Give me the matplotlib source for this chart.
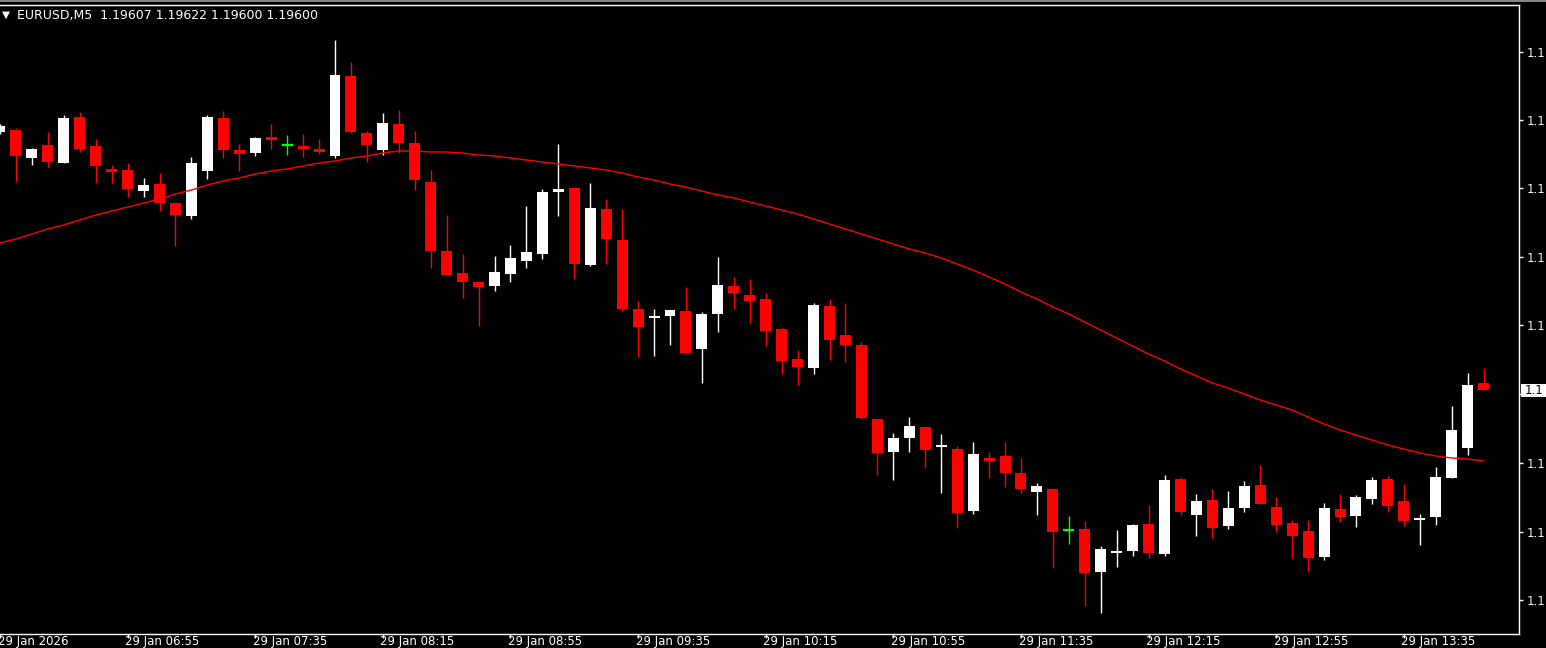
import numpy as np
import matplotlib.pyplot as plt
from matplotlib.patches import Rectangle
from matplotlib.lines import Line2D
from matplotlib.transforms import blended_transform_factory

# EURUSD M5 chart, 29 Jan 2026, first bar 06:15 (partly hidden), last bar 14:00
header = "EURUSD,M5  1.19607 1.19622 1.19600 1.19600"

opens = [1.19858, 1.19860, 1.19832, 1.19845, 1.19827, 1.19873, 1.19844, 1.19821, 1.19820, 1.19799,
         1.19806, 1.19787, 1.19774, 1.19819, 1.19872, 1.19840, 1.19837, 1.19853, 1.19845, 1.19844,
         1.19841, 1.19834, 1.19914, 1.19857, 1.19840, 1.19866, 1.19847, 1.19808, 1.19739, 1.19717,
         1.19708, 1.19704, 1.19716, 1.19729, 1.19736, 1.19798, 1.19802, 1.19725, 1.19781, 1.19750,
         1.19681, 1.19672, 1.19674, 1.19679, 1.19641, 1.19676, 1.19704, 1.19695, 1.19691, 1.19661,
         1.19631, 1.19622, 1.19684, 1.19655, 1.19645, 1.19571, 1.19538, 1.19552, 1.19563, 1.19543,
         1.19541, 1.19479, 1.19532, 1.19534, 1.19517, 1.19498, 1.19501, 1.19460, 1.19461, 1.19418,
         1.19437, 1.19439, 1.19466, 1.19436, 1.19511, 1.19475, 1.19490, 1.19464, 1.19482, 1.19505,
         1.19483, 1.19467, 1.19459, 1.19433, 1.19481, 1.19474, 1.19491, 1.19511, 1.19489, 1.19470,
         1.19473, 1.19512, 1.19542, 1.19607]
highs = [1.19866, 1.19862, 1.19842, 1.19858, 1.19875, 1.19878, 1.19851, 1.19825, 1.19827, 1.19812,
         1.19817, 1.19787, 1.19833, 1.19875, 1.19879, 1.19846, 1.19853, 1.19866, 1.19855, 1.19856,
         1.19851, 1.19950, 1.19928, 1.19859, 1.19877, 1.19880, 1.19859, 1.19820, 1.19775, 1.19736,
         1.19708, 1.19734, 1.19745, 1.19784, 1.19801, 1.19846, 1.19802, 1.19807, 1.19791, 1.19781,
         1.19689, 1.19681, 1.19680, 1.19703, 1.19678, 1.19733, 1.19713, 1.19711, 1.19697, 1.19663,
         1.19640, 1.19687, 1.19691, 1.19687, 1.19648, 1.19571, 1.19557, 1.19573, 1.19563, 1.19556,
         1.19544, 1.19548, 1.19538, 1.19548, 1.19532, 1.19507, 1.19502, 1.19474, 1.19469, 1.19444,
         1.19460, 1.19466, 1.19485, 1.19515, 1.19513, 1.19496, 1.19501, 1.19499, 1.19509, 1.19525,
         1.19493, 1.19470, 1.19470, 1.19487, 1.19496, 1.19495, 1.19513, 1.19514, 1.19506, 1.19476,
         1.19523, 1.19584, 1.19617, 1.19622]
lows = [1.19856, 1.19808, 1.19825, 1.19823, 1.19827, 1.19838, 1.19807, 1.19807, 1.19793, 1.19793,
        1.19779, 1.19744, 1.19771, 1.19811, 1.19832, 1.19819, 1.19834, 1.19841, 1.19835, 1.19833,
        1.19836, 1.19832, 1.19857, 1.19828, 1.19835, 1.19837, 1.19800, 1.19722, 1.19715, 1.19692,
        1.19664, 1.19699, 1.19708, 1.19722, 1.19731, 1.19774, 1.19711, 1.19724, 1.19726, 1.19679,
        1.19633, 1.19634, 1.19645, 1.19637, 1.19607, 1.19658, 1.19681, 1.19667, 1.19644, 1.19616,
        1.19605, 1.19616, 1.19630, 1.19628, 1.19571, 1.19515, 1.19510, 1.19538, 1.19522, 1.19497,
        1.19462, 1.19476, 1.19512, 1.19503, 1.19497, 1.19475, 1.19422, 1.19446, 1.19384, 1.19377,
        1.19423, 1.19434, 1.19432, 1.19434, 1.19475, 1.19454, 1.19452, 1.19461, 1.19478, 1.19486,
        1.19458, 1.19432, 1.19418, 1.19430, 1.19468, 1.19463, 1.19486, 1.19478, 1.19464, 1.19445,
        1.19465, 1.19512, 1.19535, 1.19600]
closes = [1.19864, 1.19834, 1.19841, 1.19828, 1.19872, 1.19841, 1.19824, 1.19818, 1.19801, 1.19805,
          1.19787, 1.19775, 1.19827, 1.19873, 1.19840, 1.19836, 1.19852, 1.19850, 1.19845, 1.19841,
          1.19838, 1.19915, 1.19858, 1.19845, 1.19867, 1.19847, 1.19810, 1.19739, 1.19715, 1.19708,
          1.19703, 1.19718, 1.19732, 1.19738, 1.19798, 1.19801, 1.19726, 1.19782, 1.19751, 1.19681,
          1.19663, 1.19674, 1.19680, 1.19637, 1.19676, 1.19705, 1.19697, 1.19689, 1.19659, 1.19629,
          1.19623, 1.19685, 1.19650, 1.19645, 1.19572, 1.19537, 1.19552, 1.19564, 1.19540, 1.19545,
          1.19477, 1.19536, 1.19529, 1.19517, 1.19501, 1.19504, 1.19458, 1.19460, 1.19417, 1.19441,
          1.19439, 1.19465, 1.19437, 1.19510, 1.19478, 1.19489, 1.19462, 1.19482, 1.19504, 1.19486,
          1.19465, 1.19454, 1.19432, 1.19482, 1.19473, 1.19493, 1.19510, 1.19484, 1.19469, 1.19472,
          1.19513, 1.19560, 1.19605, 1.19600]

# moving average line (one value per bar)
ma = [1.19747, 1.19751, 1.19756, 1.19761, 1.19765, 1.19770, 1.19775, 1.19779, 1.19783, 1.19787,
      1.19791, 1.19796, 1.19800, 1.19805, 1.19809, 1.19812, 1.19816, 1.19819, 1.19821, 1.19824,
      1.19827, 1.19829, 1.19832, 1.19834, 1.19837, 1.19839, 1.19839, 1.19838, 1.19838, 1.19837,
      1.19835, 1.19834, 1.19832, 1.19830, 1.19828, 1.19826, 1.19824, 1.19822, 1.19820, 1.19817,
      1.19813, 1.19810, 1.19806, 1.19803, 1.19799, 1.19795, 1.19792, 1.19788, 1.19784, 1.19780,
      1.19776, 1.19771, 1.19766, 1.19761, 1.19756, 1.19751, 1.19746, 1.19741, 1.19737, 1.19732,
      1.19726, 1.19720, 1.19713, 1.19706, 1.19698, 1.19691, 1.19683, 1.19676, 1.19668, 1.19660,
      1.19652, 1.19644, 1.19636, 1.19629, 1.19621, 1.19614, 1.19607, 1.19602, 1.19596, 1.19590,
      1.19585, 1.19580, 1.19573, 1.19566, 1.19560, 1.19555, 1.19550, 1.19545, 1.19541, 1.19537,
      1.19534, 1.19532, 1.19531, 1.19529]

time_labels = ["29 Jan 2026", "29 Jan 06:55", "29 Jan 07:35", "29 Jan 08:15", "29 Jan 08:55",
               "29 Jan 09:35", "29 Jan 10:15", "29 Jan 10:55", "29 Jan 11:35", "29 Jan 12:15",
               "29 Jan 12:55", "29 Jan 13:35"]
time_label_bars = [-1, 7, 15, 23, 31, 39, 47, 55, 63, 71, 79, 87]

price_ticks = [1.19938, 1.19870, 1.19802, 1.19733, 1.19665, 1.19596, 1.19527, 1.19458, 1.19390]
last_price = 1.19600

W, H = 1546, 648
BULL = "#ffffff"
BEAR = "#ff0000"
DOJI = "#00ff00"

fig = plt.figure(figsize=(W / 100, H / 100), dpi=100, facecolor="black")
# plot area: x 0..1519 px, y 5..634 px
ax = fig.add_axes([0, (H - 634) / H, 1519 / W, 629 / H], facecolor="black")

x = np.arange(len(opens)) - 1
body_w = 11 / 16

for i in range(len(opens)):
    o, h, l, c = opens[i], highs[i], lows[i], closes[i]
    if c > o:
        col = BULL
    elif c < o:
        col = BEAR
    else:
        col = DOJI
    ax.vlines(x[i], l, h, colors=col, lw=1, zorder=2)
    if abs(c - o) < 1.5e-5:
        # very thin body -> MT4 draws a flat line
        ax.hlines((o + c) / 2, x[i] - body_w / 2, x[i] + body_w / 2, colors=col, lw=1.6, zorder=3)
    else:
        ax.bar(x[i], abs(c - o), bottom=min(o, c), width=body_w, color=col,
               linewidth=0, zorder=3)

ax.plot(x, ma, color="#ff0000", lw=1, zorder=4)

ax.set_xlim(-11.5 / 16, -11.5 / 16 + 1519 / 16)
ax.set_ylim(1.19356, 1.19985)

# frame
for side in ["top", "right", "bottom"]:
    ax.spines[side].set_color("white")
    ax.spines[side].set_linewidth(1)
ax.spines["left"].set_visible(False)

# price scale on the right (label under the current price box is hidden)
ax.yaxis.tick_right()
ax.set_yticks(price_ticks)
ax.set_yticklabels(["" if abs(p - last_price) < 8e-5 else "1.1" for p in price_ticks])
ax.tick_params(axis="y", colors="white", length=3, width=1, pad=2.5, labelsize=8.5,
               labelcolor="#f0f0f0")

# time scale
ax.set_xticks(time_label_bars)
ax.set_xticklabels([""] * len(time_label_bars))
ax.tick_params(axis="x", colors="white", length=3, width=1)
tr = blended_transform_factory(ax.transData, ax.transAxes)
for b, lab in zip(time_label_bars, time_labels):
    ax.text(b - 0.15, -13.5 / 629, lab, transform=tr, ha="left", va="bottom", color="white",
            fontsize=8.5, clip_on=False)

# current price marker
tr2 = blended_transform_factory(ax.transAxes, ax.transData)
ax.add_patch(Rectangle((1 + 2 / 1519, last_price - 6.5e-5), 26 / 1519, 13e-5, transform=tr2,
                       facecolor="white", edgecolor="none", clip_on=False, zorder=5))
ax.text(1 + 6 / 1519, last_price, "1.1", transform=tr2, ha="left", va="center", color="black",
        fontsize=8.5, clip_on=False, zorder=6)

# header
fig.text(2 / W, 1 - 15 / H, "▼", color="white", fontsize=7.5, va="center", ha="left")
fig.text(17 / W, 1 - 16 / H, header, color="white", fontsize=9, va="center", ha="left")
fig.add_artist(Line2D([0, 1], [1 - 0.8 / H, 1 - 0.8 / H], color="#a0a0a0", lw=1.2))

fig.savefig("out.png", dpi=100, facecolor="black")
